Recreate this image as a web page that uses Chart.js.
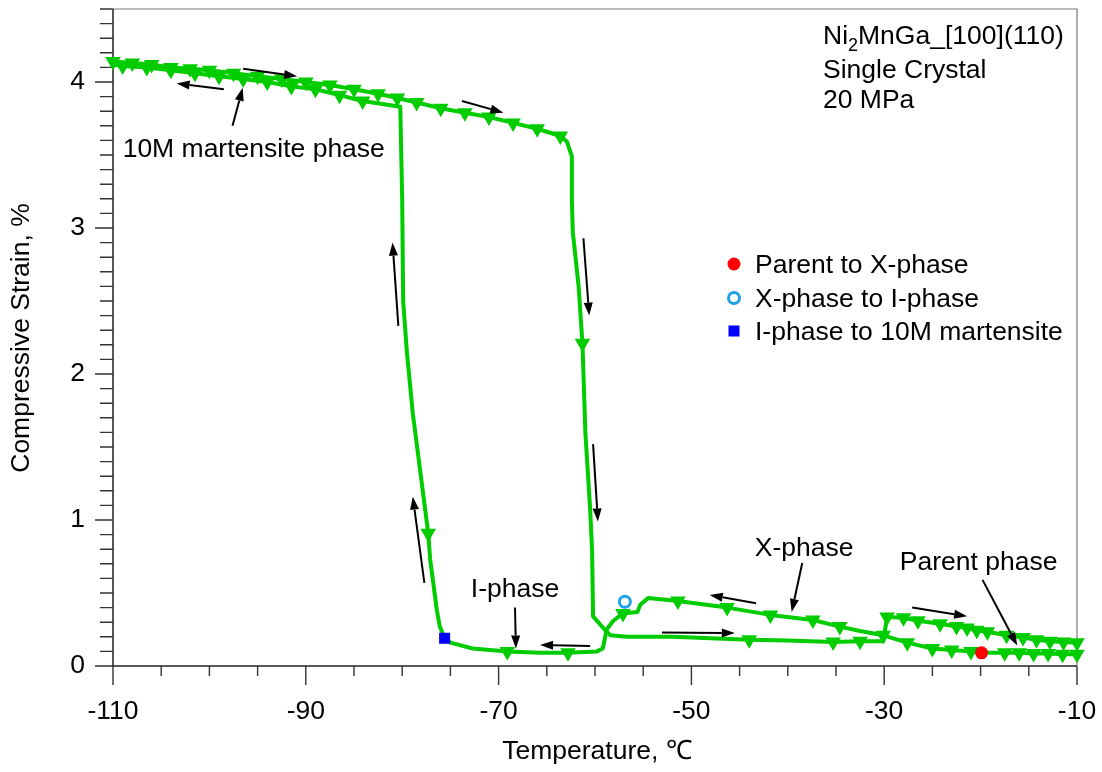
<!DOCTYPE html>
<html>
<head>
<meta charset="utf-8">
<script src="https://cdn.jsdelivr.net/npm/chart.js@4.4.1/dist/chart.umd.min.js"></script>
<style>
  html, body { margin:0; padding:0; background:#fff; }
</style>
</head>
<body>
<canvas id="strain" width="1102" height="772"></canvas>
<script>
// heating run: -110 C up to -10 C (marker flag 1 = triangle drawn)
const heatTemp   = [-110, -108, -106, -104, -102, -100, -97.5, -95, -92.5, -90, -87.5, -85, -82.5, -80.5, -78.5, -76, -73.5, -71, -68.5, -66, -63.6, -62.9, -62.4, -62.4, -62.3, -61.7, -61.3, -61.0, -60.5, -60.3, -60.2, -59.0, -58.4, -56.7, -52, -44, -40, -35.3, -32.5, -30.1, -29.7, -28, -26.5, -24.2, -22.5, -21.4, -20.4, -19.3, -17.3, -15.6, -14.2, -12.8, -11.4, -10];
const heatStrain = [4.14, 4.13, 4.12, 4.10, 4.09, 4.08, 4.06, 4.04, 4.02, 4.00, 3.98, 3.95, 3.92, 3.89, 3.86, 3.82, 3.79, 3.76, 3.72, 3.68, 3.63, 3.59, 3.49, 3.19, 2.97, 2.60, 2.21, 1.60, 1.07, 0.79, 0.34, 0.25, 0.21, 0.20, 0.20, 0.18, 0.175, 0.165, 0.17, 0.17, 0.335, 0.33, 0.31, 0.29, 0.27, 0.26, 0.245, 0.235, 0.21, 0.195, 0.18, 0.17, 0.165, 0.16];
const heatMark   = [1, 1, 1, 1, 1, 1, 1, 1, 1, 1, 1, 1, 1, 1, 1, 1, 1, 1, 1, 1, 1, 0, 0, 0, 0, 0, 1, 0, 0, 0, 0, 0, 0, 0, 0, 1, 0, 1, 1, 0, 1, 1, 1, 1, 1, 1, 1, 1, 1, 1, 1, 1, 1, 1];

// cooling run: -10 C down to -110 C
const coolTemp   = [-10, -11.5, -13, -14.5, -16, -17.5, -19, -21, -23, -25, -27.6, -30.1, -32.5, -34.6, -37.4, -41.8, -46.3, -51.4, -54.5, -55.3, -55.6, -57.1, -58.1, -58.8, -59.0, -59.2, -59.8, -62.8, -65.7, -69.1, -72.7, -75.0, -75.6, -76.1, -76.4, -77.1, -77.3, -78.9, -79.5, -79.9, -80.0, -80.2, -84.1, -86.5, -89, -91.5, -94, -96.5, -99, -101.5, -104, -106.5, -109, -110];
const coolStrain = [0.08, 0.08, 0.085, 0.085, 0.09, 0.09, 0.09, 0.10, 0.11, 0.12, 0.16, 0.21, 0.24, 0.27, 0.315, 0.35, 0.40, 0.445, 0.465, 0.42, 0.37, 0.36, 0.31, 0.25, 0.18, 0.12, 0.10, 0.09, 0.09, 0.10, 0.12, 0.16, 0.19, 0.27, 0.38, 0.73, 0.91, 1.73, 2.14, 2.50, 3.19, 3.83, 3.87, 3.91, 3.95, 3.97, 4.00, 4.02, 4.04, 4.06, 4.08, 4.10, 4.11, 4.12];
const coolMark   = [1, 1, 1, 1, 1, 1, 0, 1, 1, 1, 1, 1, 0, 1, 1, 1, 1, 1, 0, 0, 0, 1, 0, 0, 0, 0, 0, 1, 0, 1, 0, 0, 0, 0, 0, 0, 1, 0, 0, 0, 0, 0, 1, 1, 1, 1, 1, 1, 1, 1, 1, 1, 1, 0];

// phase transition start points
const transName   = ['Parent to X-phase', 'X-phase to I-phase', 'I-phase to 10M martensite'];
const transTemp   = [-19.9, -56.9, -75.6];
const transStrain = [0.09, 0.44, 0.19];

const xTicks = [-110, -90, -70, -50, -30, -10];
const yTicks = [0, 1, 2, 3, 4];

// direction arrows, [temp, strain]
const arrowTail = [[-98.5, 3.95], [-96.5, 4.09], [-97.6, 3.70], [-73.8, 3.87], [-80.4, 2.33], [-77.7, 0.57], [-61.2, 2.93], [-60.2, 1.52], [-68.3, 0.40], [-60.5, 0.137], [-53.05, 0.23], [-43.3, 0.43], [-38.5, 0.705], [-27.1, 0.40], [-19.8, 0.59]];
const arrowHead = [[-103.4, 3.99], [-90.9, 4.04], [-96.55, 3.96], [-69.5, 3.79], [-81.0, 2.90], [-78.9, 1.16], [-60.6, 2.40], [-59.7, 0.99], [-68.2, 0.12], [-65.7, 0.144], [-45.5, 0.226], [-48.1, 0.486], [-39.6, 0.37], [-21.4, 0.34], [-16.2, 0.14]];

const noteText   = ['10M martensite phase', 'I-phase', 'X-phase', 'Parent phase'];
const noteTemp   = [-95.4, -68.3, -38.3, -20.2];
const noteStrain = [3.486, 0.47, 0.753, 0.658];

const GREEN = '#00cc00';
const FONT = "'Liberation Sans', Arial, Helvetica, sans-serif";
const TXT = 26.5;
Chart.defaults.font.family = FONT;
Chart.defaults.color = '#000';

const pts = (ts, ss) => ts.map((t, i) => ({ x: t, y: ss[i] }));

const branch = (label, ts, ss, marks) => ({
  label, data: pts(ts, ss), showLine: true, tension: 0,
  borderColor: GREEN, borderWidth: 4, borderJoinStyle: 'round',
  pointStyle: 'triangle', rotation: 180,
  pointRadius: marks.map(m => m ? 9 : 0), pointHoverRadius: 0,
  pointBackgroundColor: GREEN, pointBorderColor: GREEN, pointBorderWidth: 0,
  clip: false, order: 5
});

const transStyle = [
  { pointStyle: 'circle', pointRadius: 6.5, pointBackgroundColor: '#ff0000', pointBorderWidth: 0 },
  { pointStyle: 'circle', pointRadius: 5.5, pointBackgroundColor: 'rgba(0,0,0,0)', pointBorderColor: '#1ea0ea', pointBorderWidth: 3 },
  { pointStyle: 'rect', pointRadius: 7.8, pointBackgroundColor: '#0000ff', pointBorderWidth: 0 }
];

// fixed axis boxes, no extra label padding
const fixBox = size => s => {
  if (s.isHorizontal()) s.height = size; else s.width = size;
  s.paddingLeft = s.paddingRight = s.paddingTop = s.paddingBottom = 0;
};

const frame = {
  id: 'frame',
  beforeDatasetsDraw(chart) {
    const { ctx, chartArea: a, scales: { x, y } } = chart;
    ctx.save();
    ctx.strokeStyle = '#777'; ctx.lineWidth = 1.2;
    ctx.beginPath(); ctx.moveTo(a.left, a.top); ctx.lineTo(a.right, a.top); ctx.lineTo(a.right, a.bottom); ctx.stroke();
    ctx.strokeStyle = '#222'; ctx.lineWidth = 1.5;
    ctx.beginPath(); ctx.moveTo(a.left, a.top); ctx.lineTo(a.left, a.bottom); ctx.lineTo(a.right, a.bottom); ctx.stroke();
    ctx.strokeStyle = '#333'; ctx.lineWidth = 1.4;
    ctx.beginPath();
    for (let k = 0; k <= 20; k++) {
      const t = -110 + k * 5, p = x.getPixelForValue(t);
      ctx.moveTo(p, a.bottom); ctx.lineTo(p, a.bottom + (xTicks.includes(t) ? 19 : 10));
    }
    for (let k = 0; k <= 45; k++) {
      const p = y.getPixelForValue(k / 10);
      ctx.moveTo(a.left, p); ctx.lineTo(a.left - (k % 10 === 0 ? 18 : 13), p);
    }
    ctx.stroke();
    ctx.restore();
  }
};

const notes = {
  id: 'notes',
  afterDatasetsDraw(chart) {
    const { ctx, chartArea: a, scales: { x, y } } = chart;
    ctx.save();
    // arrows
    ctx.strokeStyle = '#000'; ctx.fillStyle = '#000'; ctx.lineWidth = 2;
    arrowTail.forEach((tl, i) => {
      const x0 = x.getPixelForValue(tl[0]), y0 = y.getPixelForValue(tl[1]);
      const x1 = x.getPixelForValue(arrowHead[i][0]), y1 = y.getPixelForValue(arrowHead[i][1]);
      const ang = Math.atan2(y1 - y0, x1 - x0), len = 13, w = 4.5;
      const bx = x1 - len * Math.cos(ang), by = y1 - len * Math.sin(ang);
      ctx.beginPath(); ctx.moveTo(x0, y0); ctx.lineTo(bx, by); ctx.stroke();
      ctx.beginPath();
      ctx.moveTo(x1, y1);
      ctx.lineTo(bx + w * Math.sin(ang), by - w * Math.cos(ang));
      ctx.lineTo(bx - w * Math.sin(ang), by + w * Math.cos(ang));
      ctx.closePath(); ctx.fill();
    });
    // phase notes
    ctx.font = `${TXT}px ${FONT}`; ctx.textAlign = 'center'; ctx.textBaseline = 'alphabetic';
    noteText.forEach((s, i) => ctx.fillText(s, x.getPixelForValue(noteTemp[i]), y.getPixelForValue(noteStrain[i])));

    // sample info, top right
    ctx.textAlign = 'left';
    let tx = 823;
    ctx.fillText('Ni', tx, 44); tx += ctx.measureText('Ni').width;
    ctx.font = `18px ${FONT}`; ctx.fillText('2', tx, 51); tx += ctx.measureText('2').width;
    ctx.font = `${TXT}px ${FONT}`; ctx.fillText('MnGa_[100](110)', tx, 44);
    ctx.fillText('Single Crystal', 823, 78);
    ctx.fillText('20 MPa', 823, 108);

    // legend
    const lx = 734, ly = [264, 298, 331];
    transName.forEach((s, i) => {
      const st = transStyle[i];
      ctx.beginPath();
      if (st.pointStyle === 'rect') {
        ctx.fillStyle = st.pointBackgroundColor; ctx.fillRect(lx - 5.5, ly[i] - 5.5, 11, 11);
      } else if (st.pointBorderWidth) {
        ctx.arc(lx, ly[i], st.pointRadius, 0, Math.PI * 2);
        ctx.strokeStyle = st.pointBorderColor; ctx.lineWidth = st.pointBorderWidth; ctx.stroke();
      } else {
        ctx.arc(lx, ly[i], st.pointRadius, 0, Math.PI * 2);
        ctx.fillStyle = st.pointBackgroundColor; ctx.fill();
      }
      ctx.fillStyle = '#000';
      ctx.fillText(s, 755, ly[i] + 9);
    });

    // axis titles
    ctx.textAlign = 'center'; ctx.textBaseline = 'middle';
    ctx.fillText('Temperature, \u2103', (a.left + a.right) / 2 + 2, 752);
    ctx.translate(22, 338); ctx.rotate(-Math.PI / 2);
    ctx.fillText('Compressive Strain, %', 0, 0);
    ctx.restore();
  }
};

new Chart(document.getElementById('strain'), {
  type: 'scatter',
  data: {
    datasets: [
      ...transName.map((n, i) => ({ label: n, data: [{ x: transTemp[i], y: transStrain[i] }], ...transStyle[i], pointHoverRadius: 0, clip: false, order: 1 })),
      branch('heating', heatTemp, heatStrain, heatMark),
      branch('cooling', coolTemp, coolStrain, coolMark)
    ]
  },
  options: {
    responsive: false, animation: false, events: [],
    layout: { autoPadding: false, padding: { top: 9, right: 25, left: 0, bottom: 0 } },
    plugins: { legend: { display: false }, tooltip: { enabled: false } },
    scales: {
      x: {
        type: 'linear', min: -110, max: -10,
        afterBuildTicks: s => { s.ticks = xTicks.map(v => ({ value: v })); },
        afterFit: fixBox(106),
        grid: { display: false, drawTicks: false }, border: { display: false },
        ticks: { padding: 30, maxRotation: 0, font: { size: TXT }, color: '#000' }
      },
      y: {
        type: 'linear', min: 0, max: 4.5,
        afterBuildTicks: s => { s.ticks = yTicks.map(v => ({ value: v })); },
        afterFit: fixBox(113),
        grid: { display: false, drawTicks: false }, border: { display: false },
        ticks: { padding: 28, font: { size: TXT }, color: '#000' }
      }
    }
  },
  plugins: [frame, notes]
});
</script>
</body>
</html>
